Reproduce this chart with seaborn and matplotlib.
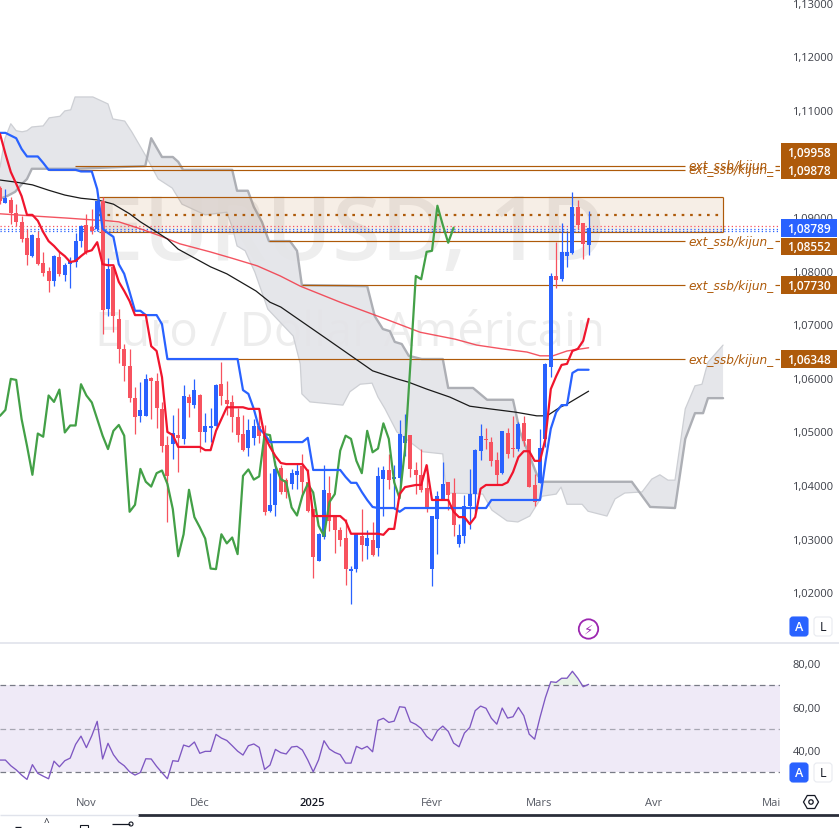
import numpy as np
import pandas as pd
import matplotlib
matplotlib.use("Agg")
import matplotlib.pyplot as plt
from matplotlib.patches import FancyBboxPatch, Circle, RegularPolygon, Rectangle
import seaborn as sns

W, H = 839, 829
PANE_W, PRICE_H, RSI_TOP, RSI_BOT = 780, 643, 644, 790

# prix en 1/10000 (10879 = 1,0879), une bougie par seance
opens = [10954,10926,10932,10908,10891,10861,10827,10861,10814,10799,
         10781,10825,10792,10812,10816,10855,10885,10881,10878,10930,
         10728,10807,10710,10654,10622,10562,10529,10529,10600,10594,
         10542,10475,10476,10493,10486,10564,10549,10568,10499,10506,
         10510,10588,10559,10555,10527,10495,10469,10488,10510,10491,
         10351,10363,10432,10409,10402,10419,10435,10406,10355,10258,
         10303,10385,10342,10316,10301,10239,10243,10305,10286,10297,
         10282,10411,10428,10411,10413,10478,10493,10428,10419,10394,
         10243,10337,10372,10406,10385,10290,10305,10361,10383,10463,
         10486,10480,10447,10422,10497,10469,10467,10516,10486,10400,
         10404,10486,10620,10790,10784,10827,10833,10919,10889,10848]
highs = [10958,10952,10937,10924,10902,10878,10868,10874,10835,10807,
         10829,10837,10814,10825,10870,10885,10906,10915,10930,10937,
         10823,10809,10728,10663,10654,10583,10592,10607,10602,10609,
         10555,10491,10531,10544,10587,10570,10598,10570,10534,10544,
         10588,10629,10594,10568,10544,10531,10523,10523,10536,10512,
         10422,10445,10437,10413,10430,10439,10458,10430,10355,10310,
         10437,10417,10342,10322,10337,10249,10309,10355,10316,10331,
         10434,10435,10458,10437,10521,10532,10493,10443,10467,10437,
         10342,10389,10443,10406,10413,10327,10381,10430,10467,10514,
         10506,10489,10462,10501,10506,10529,10518,10529,10486,10420,
         10504,10628,10796,10853,10889,10872,10947,10932,10889,10911]
lows = [10924,10926,10887,10883,10853,10810,10825,10810,10790,10760,
        10771,10790,10781,10768,10807,10844,10831,10868,10874,10682,
        10715,10685,10628,10594,10555,10495,10517,10529,10523,10506,
        10462,10331,10448,10424,10476,10527,10544,10462,10480,10480,
        10510,10549,10531,10499,10480,10463,10454,10475,10478,10344,
        10350,10342,10383,10376,10393,10393,10379,10350,10226,10258,
        10299,10314,10273,10286,10213,10178,10238,10258,10262,10267,
        10267,10342,10393,10355,10394,10454,10415,10383,10387,10350,
        10212,10271,10372,10353,10305,10284,10292,10318,10350,10447,
        10467,10435,10402,10421,10450,10452,10463,10473,10396,10361,
        10404,10471,10601,10768,10781,10807,10831,10878,10822,10829]
closes = [10930,10935,10908,10891,10859,10829,10866,10812,10796,10781,
          10827,10794,10810,10818,10855,10883,10835,10874,10930,10726,
          10803,10715,10654,10622,10562,10527,10540,10598,10594,10544,
          10473,10417,10497,10488,10566,10553,10577,10499,10510,10510,
          10587,10566,10551,10527,10493,10465,10503,10510,10491,10350,
          10363,10430,10387,10387,10422,10426,10406,10351,10266,10309,
          10391,10333,10316,10297,10243,10243,10309,10288,10301,10269,
          10417,10428,10409,10415,10495,10491,10430,10419,10391,10359,
          10342,10379,10402,10381,10325,10307,10361,10383,10465,10491,
          10484,10445,10419,10501,10458,10468,10514,10482,10396,10368,
          10469,10626,10790,10783,10835,10835,10919,10885,10850,10879]

tenkan = [11055,11018,10984,10962,10939,10904,10904,10893,10872,10855,
          10846,10835,10827,10816,10818,10827,10835,10838,10853,10812,
          10810,10810,10779,10762,10743,10717,10717,10717,10659,10650,
          10601,10499,10493,10471,10471,10471,10471,10471,10465,10465,
          10501,10523,10545,10545,10545,10545,10542,10542,10542,10491,
          10471,10454,10441,10439,10439,10439,10439,10426,10342,10342,
          10342,10342,10342,10342,10333,10309,10309,10309,10309,10309,
          10309,10307,10318,10318,10383,10396,10398,10400,10400,10437,
          10372,10372,10372,10372,10350,10340,10340,10327,10340,10393,
          10400,10400,10400,10400,10405,10424,10452,10463,10463,10445,
          10445,10486,10579,10603,10624,10626,10650,10654,10669,10710]
kijun = [11057,11057,11052,11047,11027,11013,11013,11013,11001,10988,
         10988,10988,10988,10988,10988,10985,10985,10985,10952,10878,
         10870,10863,10812,10794,10760,10725,10725,10717,10717,10717,
         10700,10635,10635,10635,10635,10635,10635,10635,10635,10635,
         10635,10635,10635,10635,10635,10577,10570,10542,10505,10495,
         10480,10480,10480,10480,10480,10480,10480,10488,10428,10428,
         10428,10428,10428,10428,10415,10404,10404,10387,10372,10359,
         10357,10357,10357,10357,10350,10357,10357,10357,10357,10357,
         10357,10357,10357,10357,10357,10357,10357,10357,10357,10357,
         10357,10372,10372,10372,10372,10372,10372,10372,10372,10372,
         10372,10443,10505,10536,10549,10549,10609,10615,10615,10615]
chikou = [10529,10540,10598,10596,10523,10473,10419,10496,10490,10567,
          10555,10578,10498,10511,10511,10588,10567,10554,10523,10492,
          10467,10501,10512,10492,10350,10363,10430,10406,10397,10422,
          10427,10402,10355,10267,10308,10391,10340,10321,10300,10244,
          10243,10308,10291,10302,10271,10417,10429,10410,10416,10495,
          10493,10436,10411,10405,10358,10343,10380,10402,10386,10324,
          10305,10368,10383,10464,10492,10486,10445,10422,10501,10461,
          10468,10515,10486,10405,10375,10467,10626,10790,10784,10835,
          10837,10921,10885,10852,10880]

ma_noire_k = [0,3,6,9,12,15,18,21,24,26,29,31,33,39,42,47.4,50,52,60.6,69,73.5,75.6,79,83.3,87,90.7,95.4,99.4,101.3,103.7,105,109]
ma_noire = [10969,10965,10960,10950,10941,10935,10932,10924,10906,10891,10872,10859,10840,10807,10794,10762,10741,10732,10672,10613,10598,10592,10579,10564,10547,10542,10536,10529,10529,10545,10551,10575]
ma_rouge_k = [0,6,12.4,18,19,22,26,29.6,33.3,38.9,43,47.6,51.9,55.6,63,71.3,77.8,84.3,88.3,93,97.6,100,102.4,105,109]
ma_rouge = [10906,10902,10898,10894,10894,10891,10878,10865,10850,10835,10823,10809,10790,10771,10741,10710,10685,10672,10661,10654,10648,10641,10641,10650,10656]

ssa_k = [0,0.9,2,3,4.1,5,5.9,8,9.1,11.1,12,13.1,13.9,17.2,20,20.9,23.1,24.4,27,29.3,31.9,33.7,38,42,43.1,43.9,45.4,47.2,49.6,54.3,55.6,55.9,57.4,63.5,64.8,66.7,68.9,70,71.3,73.5,78.3,82,82.4,83,89.4,91.1,93.9,95.9,98.1,100.4,103,103.9,105,107.8,108.9,112.4,113.9,115.7,118.9,120.7,122.2,123.7,125,126.9,128.7,130,131.1,133.9]
ssa = [10993,11046,11074,11061,11059,11061,11068,11070,11085,11088,11098,11100,11124,11124,11111,11083,11079,11059,11014,10971,10954,10924,10904,10909,10878,10846,10837,10797,10728,10678,10626,10570,10555,10549,10574,10588,10590,10564,10542,10499,10462,10458,10411,10385,10383,10353,10333,10331,10342,10379,10383,10396,10364,10364,10351,10342,10374,10385,10387,10411,10419,10409,10409,10542,10585,10588,10629,10661]
ssb_k = [0,1.3,2.8,4.1,5,5.9,13.9,26.9,28,30,32,33,33.9,43,43.9,45.9,47,48.5,49.8,53.7,55,55.9,68,69.4,70.9,72.2,73.1,74.4,75.7,78.1,82,83,87.6,90.2,95,96.3,98.5,99.4,100.6,117,120.4,125,126.9,128.7,130.2,131.1,133.9]
ssb = [10934,10939,10947,10962,10971,10990,10990,10995,11047,11012,11012,11003,10988,10988,10949,10949,10919,10891,10855,10855,10837,10773,10771,10715,10691,10687,10667,10663,10641,10635,10635,10581,10581,10559,10559,10499,10443,10420,10406,10406,10359,10357,10486,10534,10534,10562,10562]

rsi = [35.5,35.5,32.9,31.0,28.6,26.6,33.4,29.4,28.1,26.9,35.0,32.4,35.2,36.4,42.7,46.5,41.2,46.7,53.3,36.0,
       43.2,38.0,34.7,32.9,30.1,28.6,29.8,36.1,36.0,32.6,29.7,26.9,35.2,34.9,42.4,41.6,43.8,38.6,39.5,39.5,
       47.3,45.6,44.5,42.1,39.6,37.8,42.1,42.9,41.3,31.2,33.2,40.4,38.9,38.3,41.5,41.8,40.1,35.5,30.1,35.6,
       44.4,40.6,39.0,38.0,34.1,34.1,41.8,40.6,41.8,39.3,53.7,54.7,52.8,53.4,60.0,59.7,53.1,51.9,50.0,46.4,
       44.4,49.0,51.1,48.7,43.3,41.6,47.9,50.5,58.2,60.3,59.3,54.7,52.0,59.4,54.8,55.4,59.7,55.9,47.4,45.1,
       55.1,64.2,71.5,71.2,73.1,73.1,76.3,73.1,69.2,70.3]

# niveaux ext_ssb/kijun : prix, debut en bougies, position de l'etiquette
niveaux = [1.09958, 1.09878, 1.08552, 1.07730, 1.06348]
niveaux_k = [13.9, 9, 49.8, 55.9, 31]
niveaux_tag_y = [153, 171, 247.5, 286, 360]
niveaux_txt = ["1,09958", "1,09878", "1,08552", "1,07730", "1,06348"]
zone_haut, zone_bas, zone_k0, zone_k1 = 1.0937, 1.0872, 18.3, 133.9
dernier_prix, dernier_txt = 1.08789, "1,08789"

prix_ticks = [1.13, 1.12, 1.11, 1.09, 1.08, 1.07, 1.06, 1.05, 1.04, 1.03, 1.02]
prix_labels = ["1,13000", "1,12000", "1,11000", "1,09000", "1,08000", "1,07000",
               "1,06000", "1,05000", "1,04000", "1,03000", "1,02000"]
rsi_ticks, rsi_labels = [80, 60, 40], ["80,00", "60,00", "40,00"]
mois_k = [16, 36.9, 57.9, 79.9, 99.9, 121, 142.9]
mois = ["Nov", "Déc", "2025", "Févr", "Mars", "Avr", "Mai"]

assert all(len(a) == 110 for a in [opens, highs, lows, closes, tenkan, kijun, rsi])
assert len(ma_noire_k) == len(ma_noire) and len(ma_rouge_k) == len(ma_rouge)
assert len(ssa_k) == len(ssa) and len(ssb_k) == len(ssb)

BLEU, ROUGE, VERT, BRUN = "#2962FF", "#F7525F", "#43A047", "#AE5A0A"

sns.set_theme(style="white")
plt.rcParams["font.family"] = ["Open Sans", "DejaVu Sans"]

df = pd.DataFrame({"k": np.arange(110), "o": opens, "h": highs, "l": lows, "c": closes,
                   "tenkan": tenkan, "kijun": kijun, "rsi": rsi})
for col in ["o", "h", "l", "c", "tenkan", "kijun"]:
    df[col] = df[col] / 1e4
hausse = df["c"] >= df["o"]
coul = np.where(hausse, BLEU, ROUGE)

fig = plt.figure(figsize=(W / 100, H / 100), dpi=100, facecolor="white")
ax = fig.add_axes([0, 1 - PRICE_H / H, PANE_W / W, PRICE_H / H])
ax2 = fig.add_axes([0, 1 - RSI_BOT / H, PANE_W / W, (RSI_BOT - RSI_TOP) / H])
xlim = (0, PANE_W / 5.4)

# filigrane
ax.text(0.120, 0.632, "EURUSD, 1D", transform=ax.transAxes, fontsize=64, color="#000000", fontweight="semibold",
        alpha=0.065, ha="left", va="center", family="Open Sans", zorder=0)
ax.text(0.122, 0.481, "Euro / Dollar Américain", transform=ax.transAxes, fontsize=34, color="#000000",
        alpha=0.07, ha="left", va="center", family="Open Sans", zorder=0)

# nuage ichimoku
ssa_p, ssb_p = np.array(ssa) / 1e4, np.array(ssb) / 1e4
ax.fill(np.r_[ssa_k, ssb_k[::-1]], np.r_[ssa_p, ssb_p[::-1]], color="#E3E4E8", alpha=0.9, lw=0, zorder=1)
sns.lineplot(x=ssa_k, y=ssa_p, ax=ax, color="#CDCFD4", lw=0.9, sort=False, estimator=None, zorder=1.2)
sns.lineplot(x=ssb_k, y=ssb_p, ax=ax, color="#ADAFB5", lw=1.7, sort=False, estimator=None, zorder=1.2)

# zone et niveaux
ax.add_patch(Rectangle((zone_k0, zone_bas), zone_k1 - zone_k0, zone_haut - zone_bas, fc="#AE5A0A", alpha=0.10, lw=0, zorder=1.5))
ax.hlines([zone_haut, zone_bas], zone_k0, zone_k1, color=BRUN, lw=0.85, zorder=2)
ax.vlines([zone_k1], zone_bas, zone_haut, color=BRUN, lw=0.85, zorder=2)
ax.hlines([(zone_haut + zone_bas) / 2], zone_k0, zone_k1, color=BRUN, lw=1.6, ls=(0, (1.2, 2.6)), zorder=2)
ax.hlines(niveaux, niveaux_k, 685 / 5.4, color=BRUN, lw=0.85, zorder=2)
ax.hlines(niveaux, 775 / 5.4, 780 / 5.4, color=BRUN, lw=0.85, zorder=2)

# lignes de prix en pointilles
ax.hlines([1.08835], 0, xlim[1], color="#F7525F", lw=0.9, ls=(0, (1, 2)), zorder=2.2)
ax.hlines([1.08785, 1.08745], 0, xlim[1], color=BLEU, lw=0.9, ls=(0, (1, 2)), zorder=2.2)

sns.lineplot(x=ma_rouge_k, y=np.array(ma_rouge) / 1e4, ax=ax, color="#F23645", lw=1.0, alpha=0.85, sort=False, estimator=None, zorder=2.5)
sns.lineplot(x=ma_noire_k, y=np.array(ma_noire) / 1e4, ax=ax, color="#1a1a1a", lw=0.9, sort=False, estimator=None, zorder=2.5)

# bougies
ax.vlines(df["k"], df["l"], df["h"], colors=coul, lw=0.9, zorder=3)
ax.bar(df["k"], (df["c"] - df["o"]).abs().clip(lower=0.00012), bottom=df[["o", "c"]].min(axis=1),
       width=0.74, color=coul, lw=0, zorder=3)

sns.lineplot(x=np.arange(len(chikou)), y=np.array(chikou) / 1e4, ax=ax, color=VERT, lw=1.6, sort=False, estimator=None, zorder=4)
sns.lineplot(data=df, x="k", y="kijun", ax=ax, color=BLEU, lw=1.6, sort=False, estimator=None, zorder=4)
sns.lineplot(data=df, x="k", y="tenkan", ax=ax, color="#F0152D", lw=1.6, sort=False, estimator=None, zorder=4)

ax.set_xlim(xlim)
ax.set_ylim(1.0107, 1.13068)
ax.set_xticks([])
ax.set_yticks(prix_ticks)
ax.set_yticklabels(prix_labels, fontsize=8, color="#3c3f48")
ax.yaxis.tick_right()
ax.tick_params(axis="y", length=0, pad=9)
ax.set_xlabel("")
ax.set_ylabel("")
sns.despine(ax=ax, left=True, right=True, top=True, bottom=True)

# RSI
ax2.axhspan(30, 70, color="#7E57C2", alpha=0.12, lw=0, zorder=1)
ax2.axhline(70, color="#787B86", lw=0.9, ls=(0, (4.5, 3)), zorder=2)
ax2.axhline(50, color="#787B86", lw=0.9, alpha=0.6, ls=(0, (4.5, 3)), zorder=2)
ax2.axhline(30, color="#787B86", lw=0.9, ls=(0, (4.5, 3)), zorder=2)
ax2.fill_between(df["k"], 70, df["rsi"], where=df["rsi"] > 70, color="#43A047", alpha=0.12, lw=0, interpolate=True, zorder=2)
sns.lineplot(data=df, x="k", y="rsi", ax=ax2, color="#7E57C2", lw=0.95, sort=False, estimator=None, zorder=3)
ax2.set_xlim(xlim)
ax2.set_ylim(22.2, 89.3)
ax2.set_yticks(rsi_ticks)
ax2.set_yticklabels(rsi_labels, fontsize=8, color="#3c3f48")
ax2.yaxis.tick_right()
ax2.tick_params(axis="y", length=0, pad=9)
ax2.set_xticks(mois_k)
ax2.set_xticklabels(mois, fontsize=8, color="#555963")
ax2.get_xticklabels()[2].set_color("#131722")
ax2.get_xticklabels()[2].set_fontweight("semibold")
ax2.tick_params(axis="x", length=0, pad=6)
ax2.set_xlabel("")
ax2.set_ylabel("")
sns.despine(ax=ax2, left=True, right=True, top=True, bottom=True)

# habillage en pixels de l'image
ui = fig.add_axes([0, 0, 1, 1], zorder=10)
ui.set_xlim(0, W)
ui.set_ylim(H, 0)
ui.axis("off")
ui.patch.set_alpha(0)
ui.hlines([643.5], 0, W, color="#E0E3EB", lw=1.2)
ui.hlines([816], 138, W, color="#2A2E39", lw=2.0)
ui.hlines([816], 0, 138, color="#E0E3EB", lw=1.0)

for n, txt, tag_y in zip(niveaux, niveaux_txt, niveaux_tag_y):
    y_px = PRICE_H * (1.13068 - n) / (1.13068 - 1.0107)
    ui.text(731, y_px, "ext_ssb/kijun_", ha="center", va="center", fontsize=8.7, style="italic",
            family="DejaVu Sans", color=BRUN, zorder=5)
    ui.add_patch(Rectangle((781, tag_y - 8.7), 56, 17.4, fc=BRUN, lw=0, zorder=6))
    ui.text(809, tag_y, txt, ha="center", va="center", fontsize=8.6, color="white", fontweight="semibold", zorder=7)
y_dernier = 229
ui.add_patch(Rectangle((781, y_dernier - 8.7), 56, 17.4, fc=BLEU, lw=0, zorder=6))
ui.text(809, y_dernier, dernier_txt, ha="center", va="center", fontsize=8.6, color="white", fontweight="semibold", zorder=7)

# boutons A / L
for yb in [617, 763]:
    ui.add_patch(FancyBboxPatch((790, yb + 1), 18, 19, boxstyle="round,pad=0,rounding_size=3", fc=BLEU, ec=BLEU, lw=0.8))
    ui.text(799, yb + 10.8, "A", ha="center", va="center", fontsize=9, color="white", fontweight="semibold")
    ui.add_patch(FancyBboxPatch((814, yb + 1), 18, 19, boxstyle="round,pad=0,rounding_size=3", fc="white", ec="#E8EAF0", lw=0.8))
    ui.text(823, yb + 10.8, "L", ha="center", va="center", fontsize=9, color="#131722")

# eclair et reglages
ui.add_patch(Circle((588.5, 630), 9.7, fc="white", ec="#9C27B0", lw=1.3))
ui.text(588.5, 630.5, "\u26a1", ha="center", va="center", fontsize=9.5, color="#9C27B0", family="DejaVu Sans", fontweight="bold")
ui.add_patch(RegularPolygon((811, 803), 6, radius=7.5, orientation=np.pi / 2, fc="white", ec="#131722", lw=0.9))
ui.add_patch(Circle((811, 803), 2.2, fc="white", ec="#131722", lw=0.9))

# barre d'outils coupee en bas a gauche
ui.hlines([828, 825], [15, 112], [21, 130], color="#131722", lw=0.9)
ui.text(46, 829, "^", ha="center", va="bottom", fontsize=7, color="#131722")
ui.add_patch(Rectangle((80, 826), 8, 4, fc="white", ec="#131722", lw=0.8))
ui.add_patch(Circle((131, 825), 2, fc="white", ec="#131722", lw=0.8))

fig.savefig("out.png", dpi=100)
